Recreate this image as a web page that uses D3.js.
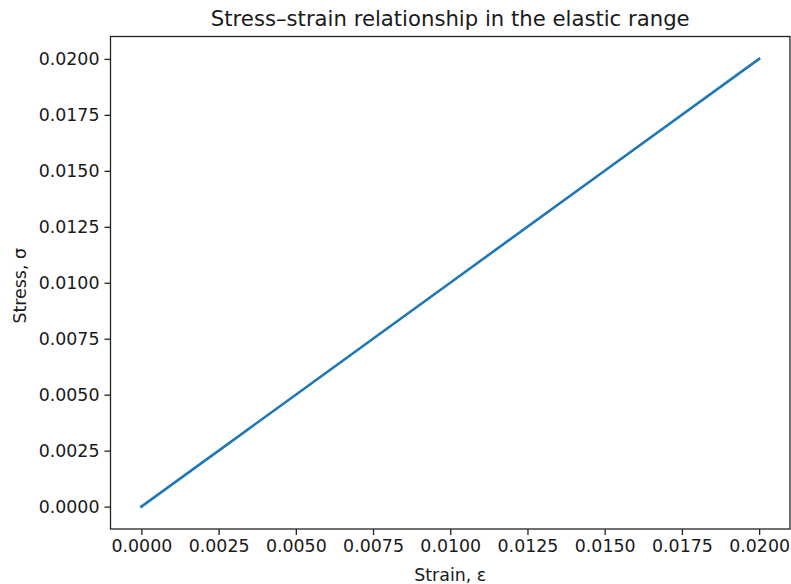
<!DOCTYPE html>
<html>
<head>
<meta charset="utf-8">
<script src="https://cdn.jsdelivr.net/npm/d3@7"></script>
<style>
  body { margin: 0; background: #fff; }
  svg { display: block; font-family: "DejaVu Sans", sans-serif; }
</style>
</head>
<body>
<div id="chart"></div>
<script>
// data: stress = strain over the elastic range
var strain = [0, 0.005, 0.01, 0.015, 0.02];
var stress = [0, 0.005, 0.01, 0.015, 0.02];
var tickValues = [0, 0.0025, 0.005, 0.0075, 0.01, 0.0125, 0.015, 0.0175, 0.02];
var titleText = "Stress\u2013strain relationship in the elastic range";
var xLabel = "Strain, \u03b5";
var yLabel = "Stress, \u03c3";

var W = 791, H = 584;
var margin = {left: 110.5, right: 1, top: 36.5, bottom: 55};
var width = W - margin.left - margin.right;
var height = H - margin.top - margin.bottom;

var svg = d3.select("#chart").append("svg")
    .attr("width", W)
    .attr("height", H);

var g = svg.append("g")
    .attr("transform", "translate(" + margin.left + "," + margin.top + ")");

// matplotlib style 5% padding on each side
var pad = 0.05 * (0.02 - 0);
var x = d3.scaleLinear().domain([0 - pad, 0.02 + pad]).range([0, width]);
var y = d3.scaleLinear().domain([0 - pad, 0.02 + pad]).range([height, 0]);

var fmt = d3.format(".4f");

var xAxis = g.append("g")
    .attr("transform", "translate(0," + height + ")")
    .call(d3.axisBottom(x).tickValues(tickValues).tickFormat(fmt).tickSize(6).tickPadding(5));
var yAxis = g.append("g")
    .call(d3.axisLeft(y).tickValues(tickValues).tickFormat(fmt).tickSize(6).tickPadding(5));

[xAxis, yAxis].forEach(function(a){
  a.select(".domain").remove();
  a.selectAll(".tick line").attr("stroke", "#222").attr("stroke-width", 1.3);
  a.selectAll(".tick text")
    .attr("fill", "#1a1a1a")
    .style("font-size", "17.4px")
    .style("font-family", "DejaVu Sans");
});

// frame
g.append("rect")
    .attr("x", 0).attr("y", 0)
    .attr("width", width).attr("height", height)
    .attr("fill", "none")
    .attr("stroke", "#222")
    .attr("stroke-width", 1.3);

// the line
var line = d3.line()
    .x(function(d, i){ return x(strain[i]); })
    .y(function(d){ return y(d); });

g.append("path")
    .datum(stress)
    .attr("d", line)
    .attr("fill", "none")
    .attr("stroke", "#1f77b4")
    .attr("stroke-width", 2.6)
    .attr("stroke-linecap", "square");

// title and labels
svg.append("text")
    .attr("x", margin.left + width / 2)
    .attr("y", 26)
    .attr("text-anchor", "middle")
    .attr("fill", "#1a1a1a")
    .style("font-size", "21.2px")
    .text(titleText);

svg.append("text")
    .attr("x", margin.left + width / 2)
    .attr("y", 580.5)
    .attr("text-anchor", "middle")
    .attr("fill", "#1a1a1a")
    .style("font-size", "17.4px")
    .text(xLabel);

svg.append("text")
    .attr("transform", "translate(26," + (margin.top + height / 2 + 3) + ") rotate(-90)")
    .attr("text-anchor", "middle")
    .attr("fill", "#1a1a1a")
    .style("font-size", "17.4px")
    .text(yLabel);
</script>
</body>
</html>
